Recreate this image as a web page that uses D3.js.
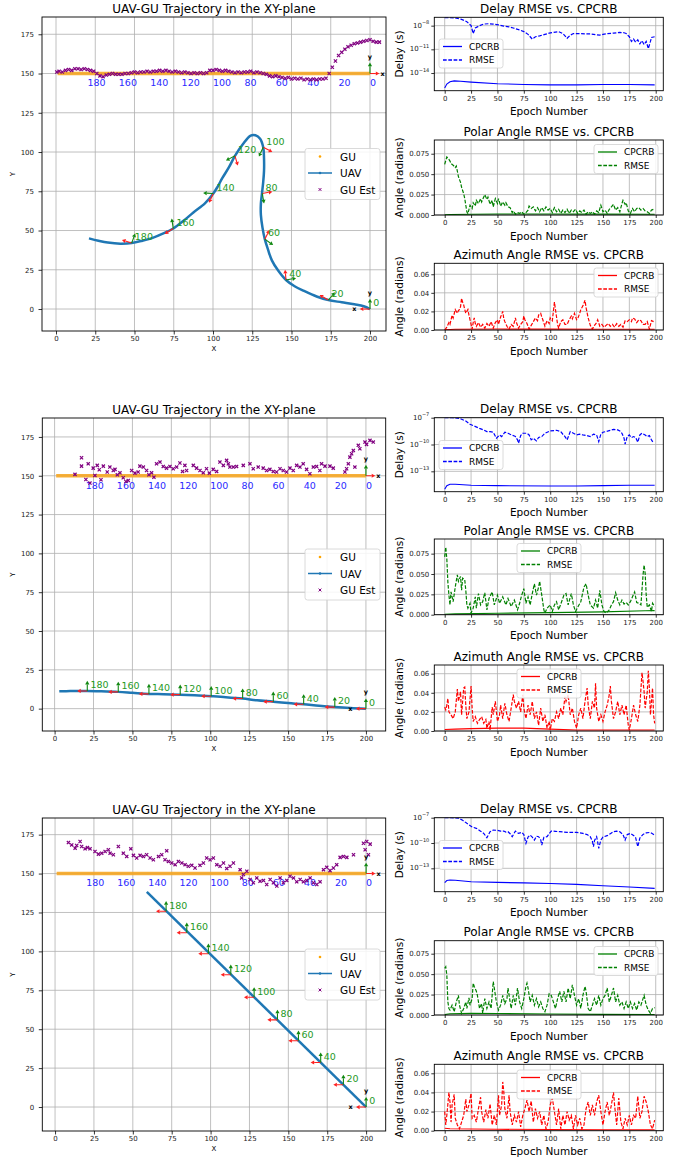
<!DOCTYPE html>
<html>
<head>
<meta charset="utf-8">
<script src="https://cdn.jsdelivr.net/npm/d3@7"></script>
<style>
body { margin: 0; background: #fff; }
svg text { font-family: "DejaVu Sans", sans-serif; }
</style>
</head>
<body>
<svg id="fig" width="684" height="1160"></svg>
<script>
// ---------------- data ----------------
const trajXTicks = [0, 25, 50, 75, 100, 125, 150, 175, 200];
const trajYTicks = [0, 25, 50, 75, 100, 125, 150, 175];
const epochTicks = [0, 25, 50, 75, 100, 125, 150, 175, 200];

// GU sits on y = 150, epoch labels below it
const guY = 150;
const guTrackX = [1, 200];
const guLabels = ["0", "20", "40", "60", "80", "100", "120", "140", "160", "180"];
const guLabelX = [200, 180, 160, 140, 120, 100, 80, 60, 40, 20];
const markLabels = guLabels;

// scenario 1: curved UAV path
const traj1 = [[200,0],[196,1.8],[190,3],[182,4.3],[173.5,5.7],[166,8],[158,11.5],[152,14.5],[146.5,18.5],[141.5,24.5],[137.5,31],[135,38],[133,44.5],[131.5,52],[130.5,60],[130.5,67],[131.2,73.6],[132,81],[132.5,88],[132.5,96],[132,103],[130,108.5],[127,110.7],[124,110.5],[119,105],[114,97.6],[110,90],[106,83.5],[103,78],[100.2,73.6],[95,67.5],[87.5,61.5],[81,56],[74.7,51.3],[68,48],[62,45.5],[55,43.5],[48.2,42],[41,41.6],[33,42.3],[27,43.5],[21,45]];
const mark1X = [200, 173.5, 146.5, 133, 131.4, 132, 114, 100.2, 74.7, 48.2];
const mark1Y = [0, 5.7, 18.5, 44.5, 73.6, 103, 97.6, 73.6, 51.3, 42];
const red1Ang = [180, 150, 95, 63, 10, -27, -74, -115, -147, 162];
const green1Ang = [90, 50, 10, -35, -80, -115, -152, 177, 99, 70];
const guEst1 = [[0.5,151],[2,151.5],[4,151],[6,152],[8,152.5],[10,152],[12,153],[14,153],[16,152.5],[18,153],[20,152.5],[22,152],[24,151.5],[26,150],[28,148.5],[30,148],[32,149],[34,149.5],[36,150],[38,149.5],[40,149.5],[42,149.5],[44,150],[46,150],[48,150.5],[50,151],[52,150.5],[54,151],[56,151],[58,151.5],[60,151],[62,151.5],[64,151.5],[66,152],[68,151.5],[70,152],[72,151.5],[74,151],[76,151.5],[78,151],[80,150.5],[82,151],[84,150.5],[86,150],[88,150.5],[90,150],[92,150.5],[94,150],[96,150.5],[98,152],[100,152],[102,152.5],[104,152],[106,151.5],[108,152],[110,151.5],[112,151],[114,150.5],[116,151],[118,150.5],[120,151],[122,151],[124,151.5],[126,150.5],[128,151],[130,150.5],[132,150],[134,149.5],[136,148.5],[138,148],[140,148.5],[142,148],[144,147.5],[146,147],[148,147.5],[150,146.5],[152,147],[154,146.5],[156,147],[158,146],[160,146.5],[162,146],[164,146.5],[166,146],[168,146.5],[170,146.5],[172,147],[174,150],[176,154],[178,158],[180,161.5],[182,163.5],[184,165.5],[186,167],[188,168],[190,169],[192,169.5],[194,170],[196,170.5],[198,171],[200,171.5],[202,170.5],[204,170],[206,170]];

// scenario 2: nearly straight path along the bottom
const traj2 = [[200,0],[190,0.4],[180,1],[170,1.8],[160,2.8],[150,3.6],[140.5,4.5],[130,5.4],[120.8,6.5],[110,7.4],[100.6,8],[90,8.6],[80.7,9],[70,9.3],[60.6,9.5],[50,10.2],[40.9,10.8],[30,11.2],[21,11.4],[10,11.3],[3,11.2]];
const mark2X = [200, 180, 160, 140.5, 120.8, 100.6, 80.7, 60.6, 40.9, 21];
const mark2Y = [0, 1, 2.8, 4.5, 6.5, 8, 9, 9.5, 10.8, 11.4];
const red2Ang = [180, 180, 180, 180, 180, 180, 180, 180, 180, 180];
const green2Ang = [90, 90, 90, 90, 90, 90, 90, 90, 90, 90];
const guEst2 = [[13.1,150.9],[17.3,161.6],[17.3,156.2],[20.1,147.6],[21.6,157.7],[22.7,145.3],[24.8,154.9],[25.9,150.2],[27.4,156.7],[28.7,153.9],[29.8,147.4],[31.3,156.2],[33.8,152.4],[35.5,155.6],[37.7,153.4],[38.8,154.1],[40.3,150.6],[42,151.9],[44.1,148.7],[45.8,146.3],[47.3,147],[49.5,153.4],[51.6,151.7],[53.7,152.4],[54.8,156.2],[57,155.6],[59.1,153.4],[60.6,150.6],[62.3,151.9],[63.8,149.1],[65.5,157.7],[67.7,158.8],[69.8,156],[71.9,154.9],[74.1,156],[76.2,154.5],[78.4,155.6],[80.5,158.2],[82.2,152.8],[83.7,156.7],[84.8,153.4],[89.1,156.7],[91.2,154.9],[93.4,153.4],[95.5,151.9],[97.6,154.5],[99.4,151.7],[101.9,154.1],[104.1,152.8],[106.2,158.8],[108.4,156.7],[110.5,159.9],[111.6,157.7],[112.6,155.6],[114.8,155.6],[116.9,156],[121.2,156.7],[125.5,157.7],[127.6,154.5],[130.8,155.6],[134,154.9],[136.2,153.4],[138.3,154.1],[140.5,152.8],[142.6,152.4],[144.8,154.5],[146.9,153.4],[149,152.4],[151.2,154.9],[153.3,153.4],[155.5,156.7],[157.6,155.6],[159.7,157.7],[161.9,154.1],[164,151.3],[166.2,155.6],[168.3,156],[170.4,153.4],[171.5,157.7],[173.7,156.2],[176.9,156.2],[179,154.9],[186.5,152.4],[187.6,154.5],[188.7,157.7],[189.7,162],[190.8,164.2],[191.9,166.3],[192.9,155.6],[195.1,169.6],[196.1,167.4],[199.4,171.7],[200.4,170.2],[202.6,172.8],[204.7,171.7]];

// scenario 3: straight diagonal path
const traj3 = [[200,0],[59,138.3]];
const mark3X = [200, 185.4, 170.8, 156.5, 143, 128, 113, 98.6, 84.7, 71.4];
const mark3Y = [0, 14.3, 28.6, 42.6, 56, 70.5, 85, 98.5, 112, 125.8];
const red3Ang = [180, 180, 180, 180, 180, 180, 180, 180, 180, 180];
const green3Ang = [90, 90, 90, 90, 90, 90, 90, 90, 90, 90];
const guEst3 = [[8.6,169.9],[10.7,168.4],[12.9,166.3],[13.9,168],[16.1,170.6],[17.1,167.4],[19.3,165.9],[20.8,166.7],[22.5,165.9],[25.7,164.2],[27.9,162.5],[30,163.1],[32.2,164.2],[34.3,165.3],[35.4,163.1],[37.5,162.1],[40.7,167.4],[43.9,163.1],[46.1,161],[48.7,165.9],[50.4,161.7],[52.5,160],[54.7,161.7],[56.8,161],[58.9,162.1],[61.1,160],[63.2,158.9],[66.5,161],[68.6,162.1],[70.7,158.9],[71.8,164.6],[72.9,157.8],[75,156.8],[77.2,155.7],[79.3,157.8],[81.5,156.8],[83.6,155.7],[85.7,154.7],[87.9,155.3],[90,153.6],[93.2,155.3],[95.4,156.8],[97.5,160],[99.7,158.9],[101.8,160],[104,155.7],[106.1,154.7],[108.3,156.8],[110.4,153.2],[112.5,154.7],[114.7,156.8],[119,152.5],[120,147.2],[121.1,149.4],[123.3,151.5],[125.4,146.2],[127.5,144.1],[129.7,147.2],[131.8,145.1],[134,145.6],[136.1,143],[138.3,146.2],[140.4,144.1],[142.6,142],[144.7,147.2],[146.8,144.1],[149,145.6],[151.1,148.3],[153.3,147.2],[155.4,144.7],[157.6,146.2],[159.7,144.7],[161.8,145.6],[164,147.2],[166.1,144.1],[168.3,143],[170.4,144.7],[172.6,152.5],[174.7,154],[176.8,151.9],[179,153.6],[181.1,155.7],[183.3,160.4],[185.4,161],[187.6,160.4],[191.9,162.1],[198.3,169.5],[199.4,165.3],[200.4,170.6],[201.5,162.1],[202.6,168.9]];

// delay (log10 seconds), [epoch, log10 value]
const delayRmseLog1 = [[0,-7],[5,-7],[11,-7.05],[16,-7.2],[21,-7.5],[25,-8],[27,-9],[29,-8.3],[33,-8],[37,-7.8],[42,-7.75],[46,-7.8],[51,-7.9],[56,-8.05],[61,-8.15],[65,-8.3],[70,-8.5],[75,-8.75],[79,-9.1],[83,-9.7],[86,-9.4],[90,-9.3],[95,-9.1],[99,-8.95],[103,-8.85],[108,-8.75],[112,-9],[116,-9.6],[119,-9.2],[122,-9],[127,-9],[133,-9.05],[138,-9.05],[143,-9.15],[147,-9.2],[150,-9.1],[154,-9],[160,-8.95],[166,-8.85],[170,-8.9],[172,-9],[175,-9.4],[177,-10],[179,-9.7],[181,-10.1],[183,-9.8],[185,-10.3],[187,-9.9],[189,-10.4],[191,-10],[193,-10.9],[195,-10],[196,-9.5],[199,-9.4]];
const delayCrbLog1 = [[0,-15.9],[2,-15.4],[5,-15.1],[9,-15],[15,-15.05],[25,-15.15],[50,-15.35],[75,-15.45],[100,-15.5],[125,-15.5],[150,-15.45],[175,-15.45],[199,-15.5]];
const delayRmseLog2 = [[0,-7],[7,-7],[14,-7.07],[20,-7.37],[24,-7.74],[28,-7.93],[33,-8.19],[37,-8.37],[40,-8.56],[43,-8.56],[46,-8.63],[49,-9.3],[52,-8.93],[54,-9.11],[57,-8.63],[60,-8.74],[62,-8.85],[65,-9],[67,-9.11],[69,-9.48],[70,-9.85],[72,-9],[74,-8.74],[78,-8.74],[80,-8.93],[82,-9.48],[84,-9.3],[87,-9.59],[89,-9.22],[92,-9.11],[95,-8.74],[100,-8.48],[106,-8.41],[110,-8.56],[112,-8.85],[114,-9.11],[116,-9.48],[119,-8.56],[122,-8.74],[125,-8.93],[128,-8.85],[131,-8.93],[135,-9],[138,-9.11],[141,-8.85],[144,-8.93],[146,-9.67],[148,-8.85],[150,-8.63],[155,-8.48],[160,-8.3],[164,-8.37],[166,-8.48],[168,-8.74],[170,-9.3],[171,-9.96],[173,-9.11],[175,-8.93],[177,-9.22],[179,-9.11],[181,-9.22],[183,-9.74],[185,-8.93],[187,-8.74],[190,-8.93],[192,-9.11],[194,-9],[196,-9.48],[198,-9.85]];
const delayCrbLog2 = [[0,-15],[2,-14.6],[5,-14.45],[10,-14.45],[25,-14.55],[50,-14.6],[100,-14.65],[125,-14.65],[150,-14.6],[175,-14.55],[199,-14.55]];
const delayRmseLog3 = [[0,-7],[6,-7],[13,-7.05],[17,-7.3],[21,-7.67],[26,-8.1],[30,-8.26],[34,-8.6],[37,-8.86],[40,-9.37],[43,-8.66],[46,-8.46],[50,-8.5],[53,-8.6],[56,-8.58],[58,-8.7],[60,-8.66],[62,-8.9],[64,-9.25],[67,-8.58],[70,-8.86],[73,-8.74],[75,-9],[77,-10.04],[79,-9.3],[81,-9.06],[83,-9.3],[85,-9.65],[87,-9.2],[89,-9.25],[91,-9.6],[92,-10.24],[94,-9.33],[97,-9.25],[99,-8.9],[101,-8.58],[105,-8.62],[109,-8.66],[113,-8.7],[116,-8.74],[120,-8.74],[125,-8.74],[128,-8.8],[131,-8.86],[135,-9],[138,-9.25],[140,-9.8],[141,-10.44],[142,-9.7],[144,-9.25],[145,-9.9],[146,-10.64],[148,-9.65],[150,-9.3],[154,-9.13],[157,-8.9],[160,-8.66],[163,-8.6],[166,-8.66],[169,-9],[171,-9.65],[173,-9],[176,-8.86],[179,-9.1],[181,-9.37],[183,-10.44],[185,-9.4],[188,-8.98],[191,-8.8],[195,-8.74],[197,-8.9],[199,-9.06]];
const delayCrbLog3 = [[0,-14.7],[2,-14.45],[5,-14.39],[10,-14.42],[25,-14.59],[50,-14.67],[75,-14.72],[100,-14.79],[125,-14.9],[150,-15.06],[175,-15.22],[199,-15.38]];

// polar angle (radians)
const polarRmse1 = [[0,0.062],[2,0.071],[4,0.068],[5,0.066],[6,0.063],[8,0.061],[10,0.058],[11,0.06],[13,0.047],[15,0.04],[16,0.034],[18,0.026],[19,0.02],[21,0.004],[22,0.0016],[24,0.012],[26,0.008],[27,0.015],[29,0.011],[30,0.018],[32,0.014],[34,0.02],[35,0.016],[37,0.022],[38,0.025],[40,0.019],[41,0.022],[43,0.013],[45,0.018],[46,0.01],[48,0.02],[50,0.014],[51,0.02],[53,0.011],[55,0.016],[57,0.012],[58,0.015],[60,0.01],[62,0.009],[64,0.003],[65,0.005],[67,0.001],[69,0.003],[71,0.002],[73,0.004],[75,0.001],[77,0.003],[79,0.006],[80,0.011],[82,0.008],[84,0.01],[86,0.005],[88,0.009],[90,0.004],[92,0.009],[94,0.005],[96,0.01],[98,0.006],[100,0.008],[102,0.003],[104,0.009],[106,0.004],[108,0.007],[110,0.002],[112,0.006],[114,0.003],[116,0.007],[118,0.002],[120,0.006],[122,0.004],[124,0.007],[126,0.002],[128,0.005],[130,0.003],[132,0.006],[134,0.001],[136,0.004],[138,0.002],[140,0.004],[142,0.001],[144,0.005],[146,0.003],[148,0.012],[150,0.004],[152,0.006],[154,0.002],[156,0.007],[158,0.01],[160,0.013],[162,0.006],[164,0.009],[166,0.004],[168,0.014],[169,0.018],[171,0.013],[172,0.015],[174,0.005],[176,0.002],[178,0.008],[180,0.004],[182,0.008],[184,0.009],[186,0.006],[188,0.008],[190,0.005],[192,0.004],[194,0.002],[196,0.006],[198,0.007]];
const polarCrb1 = [[0,0.0003],[5,0.0006],[25,0.001],[50,0.0012],[100,0.0012],[150,0.0011],[199,0.001]];
const polarRmse2 = [[0,0.071],[1,0.083],[2,0.069],[3,0.04],[4,0.024],[5,0.012],[6,0.028],[8,0.016],[10,0.034],[12,0.049],[13,0.041],[15,0.047],[16,0.03],[17,0.045],[19,0.043],[20,0.03],[21,0.012],[22,0.008],[24,0.014],[25,0.002],[27,0.008],[29,0.022],[30,0.008],[32,0.026],[34,0.012],[36,0.016],[38,0.027],[40,0.006],[42,0.02],[45,0.028],[47,0.012],[50,0.024],[52,0.014],[55,0.022],[58,0.012],[60,0.02],[63,0.01],[66,0.018],[69,0.006],[71,0.014],[73,0.024],[75,0.032],[77,0.014],[79,0.022],[81,0.012],[83,0.026],[85,0.038],[87,0.024],[89,0.034],[90,0.041],[92,0.024],[94,0.006],[95,0.002],[97,0.008],[100,0.012],[102,0.004],[104,0.012],[106,0.016],[108,0.006],[110,0.013],[113,0.024],[115,0.026],[117,0.012],[120,0.026],[122,0.012],[124,0.004],[126,0.009],[129,0.016],[132,0.034],[134,0.038],[136,0.024],[138,0.012],[141,0.008],[143,0.018],[145,0.008],[147,0.03],[149,0.012],[151,0.004],[153,0.002],[156,0.006],[158,0.012],[160,0.016],[162,0.027],[164,0.018],[166,0.012],[168,0.018],[170,0.013],[172,0.015],[174,0.012],[176,0.016],[178,0.022],[180,0.028],[182,0.015],[184,0.014],[186,0.012],[188,0.049],[189,0.061],[190,0.051],[191,0.024],[192,0.009],[194,0.012],[196,0.004],[197,0.014],[199,0.01]];
const polarCrb2 = [[0,0.0005],[10,0.001],[50,0.0018],[100,0.0025],[150,0.0035],[190,0.0048],[199,0.005]];
const polarRmse3 = [[0,0.057],[1,0.059],[2,0.049],[3,0.016],[4,0.008],[5,0.006],[7,0.012],[9,0.004],[11,0.016],[13,0.024],[14,0.012],[16,0.002],[18,0.008],[20,0.016],[21,0.008],[23,0.021],[24,0.012],[26,0.02],[27,0.039],[28,0.035],[30,0.029],[31,0.024],[33,0.008],[35,0.014],[36,0.002],[38,0.02],[40,0.008],[42,0.016],[44,0.008],[46,0.041],[47,0.033],[49,0.016],[51,0.006],[53,0.012],[55,0.024],[57,0.014],[59,0.02],[60,0.033],[62,0.016],[63,0.008],[65,0.024],[67,0.012],[69,0.033],[71,0.016],[73,0.008],[75,0.02],[77,0.035],[78,0.039],[79,0.033],[81,0.016],[83,0.024],[85,0.012],[87,0.02],[89,0.01],[91,0.016],[93,0.008],[95,0.004],[97,0.012],[99,0.026],[101,0.024],[103,0.016],[105,0.008],[107,0.02],[109,0.029],[111,0.016],[113,0.029],[115,0.016],[117,0.033],[119,0.02],[121,0.037],[123,0.024],[125,0.012],[127,0.02],[129,0.008],[131,0.024],[133,0.035],[134,0.029],[136,0.008],[138,0.004],[140,0.012],[142,0.02],[144,0.012],[146,0.024],[148,0.012],[150,0.02],[152,0.024],[154,0.033],[156,0.016],[158,0.024],[160,0.033],[162,0.016],[164,0.024],[166,0.012],[168,0.016],[170,0.008],[172,0.016],[174,0.008],[176,0.016],[178,0.008],[180,0.014],[182,0.006],[184,0.016],[186,0.012],[188,0.02],[189,0.024],[191,0.012],[193,0.006],[195,0.002],[197,0.008],[199,0.009]];
const polarCrb3 = [[0,0.0005],[5,0.0015],[25,0.002],[50,0.0018],[100,0.0012],[150,0.0008],[199,0.0005]];

// azimuth angle (radians)
const azRmse1 = [[0,0],[2,0.003],[4,0.008],[5,0.006],[7,0.016],[8,0.013],[10,0.022],[12,0.018],[13,0.021],[14,0.022],[15,0.025],[16,0.034],[17,0.03],[18,0.027],[19,0.022],[20,0.018],[21,0.02],[22,0.022],[23,0.016],[24,0.011],[25,0.006],[26,0.001],[27,0.008],[28,0.013],[29,0.007],[30,0.004],[32,0.008],[34,0.003],[36,0.006],[38,0.002],[40,0.007],[42,0.004],[44,0.009],[46,0.002],[48,0.008],[50,0.011],[51,0.006],[53,0.014],[55,0.02],[56,0.012],[57,0.009],[59,0.004],[61,0.001],[63,0.006],[65,0.004],[67,0.013],[68,0.008],[70,0.002],[72,0.006],[74,0.009],[75,0.015],[76,0.011],[78,0.007],[80,0.001],[82,0.005],[84,0.009],[86,0.013],[88,0.01],[89,0.016],[91,0.018],[92,0.014],[93,0.011],[95,0.004],[97,0.01],[99,0.007],[100,0.013],[102,0.01],[104,0.03],[105,0.022],[106,0.014],[107,0.006],[108,0.002],[110,0.009],[112,0.011],[114,0.006],[116,0.006],[118,0.011],[120,0.015],[121,0.012],[123,0.018],[125,0.011],[126,0.012],[128,0.018],[129,0.022],[131,0.026],[133,0.032],[134,0.024],[136,0.013],[138,0.005],[140,0.001],[142,0.005],[144,0.008],[145,0.011],[147,0.004],[149,0.006],[151,0.003],[153,0.005],[155,0.007],[157,0.004],[159,0.006],[161,0.003],[163,0.007],[165,0.004],[167,0.006],[169,0.003],[171,0.01],[173,0.009],[175,0.011],[177,0.009],[178,0.013],[180,0.012],[182,0.008],[184,0.011],[186,0.01],[188,0.006],[190,0.006],[192,0.009],[194,0.001],[196,0.01],[198,0.009]];
const azCrb1 = [[0,0.0003],[10,0.0008],[50,0.001],[100,0.0009],[150,0.0008],[199,0.0008]];
const azRmse2 = [[0,0.025],[1,0.022],[2,0.027],[3,0.034],[4,0.02],[6,0.017],[8,0.013],[10,0.02],[12,0.044],[13,0.031],[15,0.041],[16,0.017],[18,0.045],[19,0.046],[20,0.027],[21,0.013],[23,0.02],[25,0.047],[26,0.024],[27,0.01],[29,0.015],[31,0.008],[33,0.012],[35,0.015],[37,0.008],[39,0.012],[40,0.003],[42,0.01],[43,0.001],[45,0.025],[46,0.017],[48,0.031],[50,0.01],[52,0.017],[53,0.027],[55,0.013],[57,0.029],[59,0.017],[61,0.01],[63,0.024],[65,0.038],[66,0.031],[68,0.024],[70,0.031],[72,0.02],[74,0.038],[75,0.024],[77,0.013],[79,0.027],[81,0.017],[83,0.031],[85,0.013],[87,0.02],[89,0.006],[91,0.024],[93,0.01],[95,0.017],[97,0.003],[99,0.01],[100,0.001],[102,0.013],[104,0.01],[106,0.02],[108,0.013],[110,0.024],[112,0.017],[114,0.036],[115,0.031],[117,0.038],[119,0.017],[121,0.024],[123,0.01],[125,0.003],[127,0.017],[129,0.024],[131,0.013],[133,0.031],[135,0.045],[136,0.027],[138,0.013],[140,0.031],[142,0.024],[143,0.05],[144,0.024],[146,0.01],[148,0.017],[150,0.01],[152,0.02],[154,0.027],[156,0.038],[157,0.047],[158,0.031],[160,0.013],[162,0.02],[164,0.031],[166,0.017],[168,0.027],[170,0.017],[172,0.027],[174,0.006],[175,0.001],[177,0.013],[179,0.027],[181,0.017],[183,0.01],[185,0.027],[187,0.061],[188,0.052],[189,0.041],[190,0.024],[192,0.041],[193,0.063],[194,0.045],[195,0.017],[197,0.045],[198,0.017],[199,0.008]];
const azCrb2 = [[0,0.0015],[10,0.002],[25,0.0025],[50,0.003],[75,0.003],[100,0.002],[125,0.001],[150,0.001],[199,0.001]];
const azRmse3 = [[0,0.02],[1,0.006],[2,0.016],[4,0.04],[5,0.03],[6,0.009],[7,0.027],[9,0.038],[10,0.013],[12,0.006],[14,0.002],[16,0.009],[18,0.016],[20,0.033],[21,0.02],[23,0.027],[25,0.039],[26,0.013],[28,0.016],[30,0.009],[32,0.023],[34,0.035],[35,0.02],[37,0.009],[39,0.022],[41,0.013],[43,0.028],[45,0.006],[47,0.016],[49,0.006],[51,0.037],[52,0.016],[54,0.027],[55,0.051],[56,0.041],[57,0.023],[59,0.013],[61,0.037],[62,0.02],[64,0.006],[66,0.016],[68,0.009],[70,0.02],[72,0.004],[74,0.016],[76,0.023],[78,0.032],[80,0.02],[82,0.031],[84,0.009],[86,0.023],[88,0.013],[90,0.02],[92,0.006],[94,0.016],[96,0.002],[98,0.009],[100,0.027],[102,0.034],[104,0.02],[106,0.006],[108,0.023],[110,0.002],[112,0.016],[114,0.006],[116,0.02],[118,0.011],[120,0.016],[122,0.002],[124,0.016],[126,0.006],[128,0.013],[130,0.002],[132,0.006],[134,0.023],[136,0.03],[138,0.016],[140,0.027],[142,0.016],[144,0.03],[146,0.037],[148,0.02],[150,0.006],[152,0.02],[154,0.03],[156,0.016],[158,0.027],[160,0.04],[161,0.027],[163,0.006],[165,0.034],[167,0.009],[169,0.002],[171,0.013],[173,0.006],[175,0.016],[177,0.006],[179,0.016],[181,0.013],[183,0.036],[185,0.013],[187,0.02],[189,0.036],[191,0.03],[193,0.02],[195,0.006],[197,0.002],[199,0.011]];
const azCrb3 = [[0,0.0025],[5,0.002],[25,0.0018],[50,0.0015],[100,0.0012],[150,0.001],[199,0.001]];

// ---------------- drawing ----------------
const svg = d3.select("#fig");
let clipCount = 0;

function makeClip(box) {
  const id = "clip" + (clipCount++);
  svg.append("clipPath").attr("id", id)
    .append("rect").attr("x", box.l).attr("y", box.t)
    .attr("width", box.r - box.l).attr("height", box.b - box.t);
  return "url(#" + id + ")";
}

function drawGrid(g, x, y, xt, yt, box) {
  const gg = g.append("g").attr("stroke", "#b0b0b0").attr("stroke-width", 0.8);
  gg.selectAll(".gx").data(xt).join("line")
    .attr("x1", d => x(d)).attr("x2", d => x(d)).attr("y1", box.t).attr("y2", box.b);
  gg.selectAll(".gy").data(yt).join("line")
    .attr("x1", box.l).attr("x2", box.r).attr("y1", d => y(d)).attr("y2", d => y(d));
}

function styleAxis(sel, fs) {
  sel.select(".domain").remove();
  sel.selectAll(".tick line").attr("stroke", "#000").attr("stroke-width", 0.8);
  sel.selectAll(".tick text").attr("font-size", fs).attr("fill", "#222");
}

function spines(g, box) {
  g.append("rect").attr("x", box.l).attr("y", box.t)
    .attr("width", box.r - box.l).attr("height", box.b - box.t)
    .attr("fill", "none").attr("stroke", "#000").attr("stroke-width", 0.9);
}

// arrow in data coords, angle in degrees, length in data units
function arrow(g, x, y, x0, y0, ang, len, color) {
  const k = Math.abs(x(1) - x(0));
  const a = ang * Math.PI / 180;
  const px = x(x0), py = y(y0);
  const L = len * k, hl = 3.6, hw = 2.1;
  const ux = Math.cos(a), uy = -Math.sin(a);
  const ex = px + ux * L, ey = py + uy * L;
  const bx = ex - ux * hl, by = ey - uy * hl;
  g.append("line").attr("x1", px).attr("y1", py).attr("x2", bx).attr("y2", by)
    .attr("stroke", color).attr("stroke-width", 1.1);
  g.append("path")
    .attr("d", `M${ex},${ey}L${bx - uy * hw},${by + ux * hw}L${bx + uy * hw},${by - ux * hw}Z`)
    .attr("fill", color);
}

function drawTrajectory(c) {
  const box = c.box;
  const x = d3.scaleLinear().domain(c.xdom).range([box.l, box.r]);
  const y = d3.scaleLinear().domain(c.ydom).range([box.b, box.t]);
  const g = svg.append("g");
  drawGrid(g, x, y, trajXTicks, trajYTicks, box);
  const plot = g.append("g").attr("clip-path", makeClip(box));

  // GU positions
  plot.append("line")
    .attr("x1", x(guTrackX[0])).attr("x2", x(guTrackX[1]))
    .attr("y1", y(guY)).attr("y2", y(guY))
    .attr("stroke", "#f5a623").attr("stroke-width", 3.4).attr("stroke-opacity", 0.9);
  // epoch labels of GU
  plot.append("g").selectAll("text").data(guLabels).join("text")
    .attr("x", (d, i) => x(guLabelX[i])).attr("y", y(guY - 6))
    .attr("dominant-baseline", "central").attr("font-size", 9.5)
    .attr("fill", "#2a2aff").text(d => d);

  // UAV trajectory
  plot.append("path").datum(c.traj)
    .attr("d", d3.line().x(d => x(d[0])).y(d => y(d[1])).curve(d3.curveCatmullRom))
    .attr("fill", "none").attr("stroke", "#1f77b4").attr("stroke-width", 2.5);

  // GU estimates
  const s = 1.6;
  plot.append("g").selectAll("path").data(c.guEst).join("path")
    .attr("d", d => {
      const px = x(d[0]), py = y(d[1]);
      return `M${px - s},${py - s}L${px + s},${py + s}M${px - s},${py + s}L${px + s},${py - s}`;
    })
    .attr("stroke", "purple").attr("stroke-width", 1.2);

  // GU frame
  arrow(plot, x, y, 200, guY, 0, 6, "#ff2020");
  arrow(plot, x, y, 200, guY, 90, 7, "#118811");
  plot.append("text").attr("x", x(208)).attr("y", y(guY)).attr("dominant-baseline", "central")
    .attr("text-anchor", "middle").attr("font-size", 6.5).attr("font-weight", "bold").text("x");
  plot.append("text").attr("x", x(200)).attr("y", y(guY + 10.5)).attr("dominant-baseline", "central")
    .attr("text-anchor", "middle").attr("font-size", 6.5).attr("font-weight", "bold").text("y");

  // UAV body frames every 20 epochs
  c.markX.forEach((mx, i) => {
    const my = c.markY[i];
    arrow(plot, x, y, mx, my, c.redAng[i], 6.5, "#ff2020");
    arrow(plot, x, y, mx, my, c.greenAng[i], 6.5, "#118811");
    plot.append("text").attr("x", x(mx + 2)).attr("y", y(my + 4))
      .attr("dominant-baseline", "central").attr("font-size", 9.5)
      .attr("fill", "#1f9a1f").text(markLabels[i]);
  });
  plot.append("text").attr("x", x(190)).attr("y", y(0)).attr("dominant-baseline", "central")
    .attr("text-anchor", "middle").attr("font-size", 6.5).attr("font-weight", "bold").text("x");
  plot.append("text").attr("x", x(200)).attr("y", y(10.5)).attr("dominant-baseline", "central")
    .attr("text-anchor", "middle").attr("font-size", 6.5).attr("font-weight", "bold").text("y");

  // axes
  g.append("g").attr("transform", `translate(0,${box.b})`)
    .call(d3.axisBottom(x).tickValues(trajXTicks).tickSize(3.5).tickPadding(2))
    .call(sel => styleAxis(sel, 7));
  g.append("g").attr("transform", `translate(${box.l},0)`)
    .call(d3.axisLeft(y).tickValues(trajYTicks).tickSize(3.5).tickPadding(4.5))
    .call(sel => styleAxis(sel, 7));
  spines(g, box);

  g.append("text").attr("x", (box.l + box.r) / 2).attr("y", box.t - 8.5)
    .attr("text-anchor", "middle").attr("dominant-baseline", "central")
    .attr("font-size", 12).text("UAV-GU Trajectory in the XY-plane");
  g.append("text").attr("x", (box.l + box.r) / 2).attr("y", box.b + 18)
    .attr("text-anchor", "middle").attr("dominant-baseline", "central")
    .attr("font-size", 7).text("X");
  g.append("text").attr("transform", `translate(13,${(box.t + box.b) / 2}) rotate(-90)`)
    .attr("text-anchor", "middle").attr("dominant-baseline", "central")
    .attr("font-size", 7).text("Y");

  // legend (center right)
  const lg = g.append("g").attr("transform", `translate(305,${(box.t + box.b) / 2 - 25.5})`);
  lg.append("rect").attr("width", 75).attr("height", 51).attr("rx", 2.5)
    .attr("fill", "#fff").attr("fill-opacity", 0.85).attr("stroke", "#d0d0d0").attr("stroke-width", 0.8);
  const rows = [8, 24.5, 41];
  lg.append("circle").attr("cx", 15).attr("cy", rows[0]).attr("r", 1.3).attr("fill", "orange");
  lg.append("line").attr("x1", 3).attr("x2", 27).attr("y1", rows[1]).attr("y2", rows[1])
    .attr("stroke", "#1f77b4").attr("stroke-width", 1.5);
  lg.append("circle").attr("cx", 15).attr("cy", rows[1]).attr("r", 1.3).attr("fill", "#1f77b4");
  lg.append("path").attr("d", `M13.6,${rows[2] - 1.4}L16.4,${rows[2] + 1.4}M13.6,${rows[2] + 1.4}L16.4,${rows[2] - 1.4}`)
    .attr("stroke", "purple").attr("stroke-width", 1);
  ["GU", "UAV", "GU Est"].forEach((t, i) => {
    lg.append("text").attr("x", 35).attr("y", rows[i]).attr("dominant-baseline", "central")
      .attr("font-size", 10.5).text(t);
  });
}

const rightL = 434.3, rightR = 663.3, epochDom = [-9.86, 207.2];

function superTick(g, y, vals, box) {
  vals.forEach(v => {
    const t = g.append("text").attr("x", box.l - 5).attr("y", y(Math.pow(10, v)))
      .attr("text-anchor", "end").attr("dominant-baseline", "central")
      .attr("font-size", 7).attr("fill", "#222");
    t.append("tspan").text("10");
    t.append("tspan").attr("dy", -3.5).attr("font-size", 5).text("\u2212" + Math.abs(v));
  });
}

function drawSeries(c) {
  const box = c.box;
  const x = d3.scaleLinear().domain(epochDom).range([box.l, box.r]);
  let y, yTickVals;
  if (c.log) {
    y = d3.scaleLog().domain([Math.pow(10, c.ydom[0]), Math.pow(10, c.ydom[1])]).range([box.b, box.t]);
    yTickVals = c.yTicks.map(v => Math.pow(10, v));
  } else {
    y = d3.scaleLinear().domain(c.ydom).range([box.b, box.t]);
    yTickVals = c.yTicks;
  }
  const val = d => c.log ? Math.pow(10, d[1]) : d[1];
  const g = svg.append("g");
  drawGrid(g, x, y, epochTicks, yTickVals, box);
  const plot = g.append("g").attr("clip-path", makeClip(box));
  const line = d3.line().x(d => x(d[0])).y(d => y(val(d)));
  plot.append("path").datum(c.crb).attr("d", line)
    .attr("fill", "none").attr("stroke", c.color).attr("stroke-width", 1.1);
  plot.append("path").datum(c.rmse).attr("d", line)
    .attr("fill", "none").attr("stroke", c.color).attr("stroke-width", 1.2)
    .attr("stroke-dasharray", "3.7,1.6");

  g.append("g").attr("transform", `translate(0,${box.b})`)
    .call(d3.axisBottom(x).tickValues(epochTicks).tickSize(3).tickPadding(2))
    .call(sel => styleAxis(sel, 7));
  g.append("g").attr("transform", `translate(${box.l},0)`)
    .call(d3.axisLeft(y).tickValues(yTickVals).tickSize(3).tickPadding(2)
      .tickFormat(c.log ? () => "" : d3.format(c.fmt)))
    .call(sel => styleAxis(sel, 7));
  if (c.log) superTick(g, y, c.yTicks, box);
  spines(g, box);

  g.append("text").attr("x", (box.l + box.r) / 2).attr("y", box.t - 8.5)
    .attr("text-anchor", "middle").attr("dominant-baseline", "central")
    .attr("font-size", 12).text(c.title);
  g.append("text").attr("x", (box.l + box.r) / 2).attr("y", box.b + 20.5)
    .attr("text-anchor", "middle").attr("dominant-baseline", "central")
    .attr("font-size", 10.5).text("Epoch Number");
  g.append("text").attr("transform", `translate(399,${(box.t + box.b) / 2}) rotate(-90)`)
    .attr("text-anchor", "middle").attr("dominant-baseline", "central")
    .attr("font-size", 10.5).text(c.ylabel);

  const lg = g.append("g").attr("transform", `translate(${c.leg[0]},${c.leg[1]})`);
  lg.append("rect").attr("width", 64).attr("height", 29).attr("rx", 2.5)
    .attr("fill", "#fff").attr("fill-opacity", 0.85).attr("stroke", "#d0d0d0").attr("stroke-width", 0.8);
  [["CPCRB", "none"], ["RMSE", "3.7,1.6"]].forEach((e, i) => {
    const yy = 7.5 + i * 13.5;
    lg.append("line").attr("x1", 4).attr("x2", 23).attr("y1", yy).attr("y2", yy)
      .style("stroke", c.color).attr("stroke-width", 1.3).attr("stroke-dasharray", e[1]);
    lg.append("text").attr("x", 30).attr("y", yy).attr("dominant-baseline", "central")
      .attr("font-size", 9).text(e[0]);
  });
}

// left column
drawTrajectory({ box: { l: 42, r: 386, t: 17, b: 331 }, xdom: [-8.92, 210.2], ydom: [-14, 186],
  traj: traj1, guEst: guEst1, markX: mark1X, markY: mark1Y, redAng: red1Ang, greenAng: green1Ang });
drawTrajectory({ box: { l: 42.3, r: 385.7, t: 418, b: 731 }, xdom: [-7.9, 212.7], ydom: [-14.4, 187.2],
  traj: traj2, guEst: guEst2, markX: mark2X, markY: mark2Y, redAng: red2Ang, greenAng: green2Ang });
drawTrajectory({ box: { l: 42.3, r: 385.7, t: 818, b: 1131 }, xdom: [-8.2, 212.6], ydom: [-15.4, 185.7],
  traj: traj3, guEst: guEst3, markX: mark3X, markY: mark3Y, redAng: red3Ang, greenAng: green3Ang });

// right column
const blue = "#0000ff", green = "#008000", red = "#ff0000";
const polarTicks = [0, 0.025, 0.05, 0.075], azTicks = [0, 0.02, 0.04, 0.06];
const rb = (t, b) => ({ l: rightL, r: rightR, t: t, b: b });

drawSeries({ box: rb(17.3, 90.7), log: true, ydom: [-16.24, -6.94], yTicks: [-14, -11, -8],
  title: "Delay RMSE vs. CPCRB", ylabel: "Delay (s)", color: blue, rmse: delayRmseLog1, crb: delayCrbLog1, leg: [439, 39] });
drawSeries({ box: rb(140, 215), log: false, ydom: [0, 0.0918], yTicks: polarTicks, fmt: ".3f",
  title: "Polar Angle RMSE vs. CPCRB", ylabel: "Angle (radians)", color: green, rmse: polarRmse1, crb: polarCrb1, leg: [594, 144.5] });
drawSeries({ box: rb(263.3, 330), log: false, ydom: [0, 0.0718], yTicks: azTicks, fmt: ".2f",
  title: "Azimuth Angle RMSE vs. CPCRB", ylabel: "Angle (radians)", color: red, rmse: azRmse1, crb: azCrb1, leg: [594, 268] });

drawSeries({ box: rb(417.7, 491.7), log: true, ydom: [-15.28, -7], yTicks: [-13, -10, -7],
  title: "Delay RMSE vs. CPCRB", ylabel: "Delay (s)", color: blue, rmse: delayRmseLog2, crb: delayCrbLog2, leg: [439, 440.5] });
drawSeries({ box: rb(539, 614.7), log: false, ydom: [0, 0.093], yTicks: polarTicks, fmt: ".3f",
  title: "Polar Angle RMSE vs. CPCRB", ylabel: "Angle (radians)", color: green, rmse: polarRmse2, crb: polarCrb2, leg: [517, 543.5] });
drawSeries({ box: rb(665, 731), log: false, ydom: [0, 0.0691], yTicks: azTicks, fmt: ".2f",
  title: "Azimuth Angle RMSE vs. CPCRB", ylabel: "Angle (radians)", color: red, rmse: azRmse2, crb: azCrb2, leg: [517, 669] });

drawSeries({ box: rb(817.7, 891.7), log: true, ydom: [-15.77, -7], yTicks: [-13, -10, -7],
  title: "Delay RMSE vs. CPCRB", ylabel: "Delay (s)", color: blue, rmse: delayRmseLog3, crb: delayCrbLog3, leg: [439, 840.5] });
drawSeries({ box: rb(940.7, 1015), log: false, ydom: [0, 0.0909], yTicks: polarTicks, fmt: ".3f",
  title: "Polar Angle RMSE vs. CPCRB", ylabel: "Angle (radians)", color: green, rmse: polarRmse3, crb: polarCrb3, leg: [594, 946.5] });
drawSeries({ box: rb(1064.3, 1130.7), log: false, ydom: [0, 0.0694], yTicks: azTicks, fmt: ".2f",
  title: "Azimuth Angle RMSE vs. CPCRB", ylabel: "Angle (radians)", color: red, rmse: azRmse3, crb: azCrb3, leg: [517, 1070] });
</script>
</body>
</html>
